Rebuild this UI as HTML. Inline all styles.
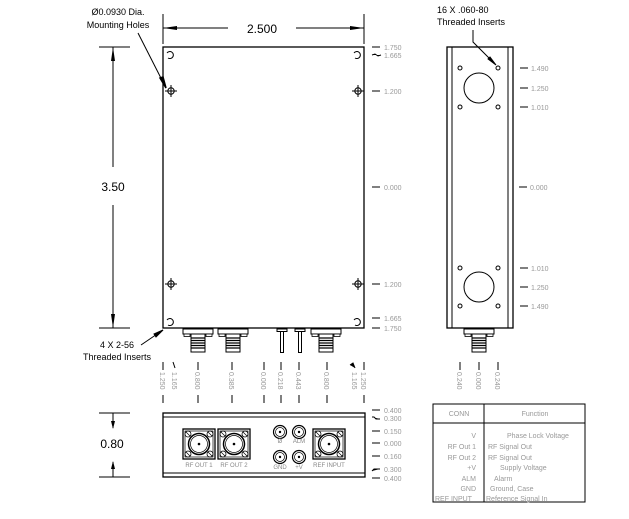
<!DOCTYPE html>
<html><head><meta charset="utf-8"><style>
html,body{margin:0;padding:0;background:#fff;}
svg{display:block;font-family:"Liberation Sans",sans-serif;}
.g{fill:#999;font-size:7px;}
.gl{fill:#888;font-size:6px;}
</style></head><body>
<svg width="629" height="519" viewBox="0 0 629 519" xmlns="http://www.w3.org/2000/svg">
<defs>
<g id="sma">
<rect x="-15" y="0" width="30" height="5" fill="#fff" stroke="#000"/>
<rect x="-14" y="5" width="6" height="2.5" fill="#fff" stroke="#000" stroke-width="0.8"/>
<rect x="8" y="5" width="6" height="2.5" fill="#fff" stroke="#000" stroke-width="0.8"/>
<rect x="-7" y="5" width="14" height="18" fill="#fff" stroke="#000"/>
<path d="M-7 9h14M-7 11.5h14M-7 14h14M-7 16.5h14M-7 19h14" stroke="#000" stroke-width="1.2"/>
</g>
<g id="sq">
<rect x="-16" y="-15" width="32" height="30" fill="#fff" stroke="#000" stroke-width="1.3"/>
<rect x="-14" y="-13" width="28" height="26" fill="none" stroke="#000" stroke-width="0.7"/>
<circle r="10.5" fill="none" stroke="#000" stroke-width="1.5"/>
<circle r="8.5" fill="none" stroke="#000" stroke-width="0.7"/>
<circle r="1.3" fill="#000"/>
<g fill="none" stroke="#000" stroke-width="0.8">
<circle cx="-11" cy="-10" r="3"/><circle cx="11" cy="-10" r="3"/><circle cx="-11" cy="10" r="3"/><circle cx="11" cy="10" r="3"/>
</g>
<path d="M-13-12l4 4M9-12l4 4M-13 8l4 4M9 8l4 4" stroke="#000" stroke-width="0.7"/>
</g>
<g id="sc">
<circle r="6.5" fill="none" stroke="#000" stroke-width="1.2"/>
<circle r="4.5" fill="none" stroke="#000" stroke-width="0.7"/>
<circle r="1.2" fill="#000"/>
</g>
<g id="mh">
<circle r="3.2" fill="none" stroke="#000"/>
<path d="M-6 0h12M0-6v12" stroke="#000"/>
</g>
<g id="ti">
<path d="M-3-2A3.5 3.5 0 1 1 -2 3" fill="none" stroke="#000"/>
</g>
</defs>

<!-- top view -->
<rect x="163" y="47" width="201" height="281" fill="#fff" stroke="#000" stroke-width="1.3"/>
<use href="#ti" x="170" y="55"/><use href="#ti" x="357" y="55"/>
<use href="#ti" x="170" y="322"/><use href="#ti" x="357" y="322"/>
<use href="#mh" x="171" y="91"/><use href="#mh" x="358" y="91"/>
<use href="#mh" x="171" y="284"/><use href="#mh" x="358" y="284"/>
<use href="#sma" x="198" y="329"/><use href="#sma" x="233" y="329"/><use href="#sma" x="326" y="329"/>
<g fill="#fff" stroke="#000">
<rect x="277" y="329" width="10" height="2.5"/><rect x="280.5" y="331.5" width="3" height="21"/>
<rect x="295" y="329" width="10" height="2.5"/><rect x="298.5" y="331.5" width="3" height="21"/>
</g>

<!-- 2.500 dim -->
<path d="M163 14v30M364 14v30M163 28h65M296 28h68" stroke="#000"/>
<path d="M163 28l14-2v4zM364 28l-14-2v4z" fill="#000"/>
<text x="262" y="33" font-size="12" text-anchor="middle">2.500</text>
<!-- callout -->
<text x="118" y="15" font-size="9" text-anchor="middle">Ø0.0930 Dia.</text>
<text x="118" y="28" font-size="9" text-anchor="middle">Mounting Holes</text>
<path d="M138 33L166 88" stroke="#000"/>
<path d="M166 88l-6-10 3-1z" fill="#000" stroke="#000" stroke-width="1.5"/>
<!-- 3.50 dim -->
<path d="M99 47h31M99 328h31M113 47v120M113 205v123" stroke="#000"/>
<path d="M113 47l-2 14h4zM113 328l-2-14h4z" fill="#000"/>
<text x="113" y="191" font-size="12" text-anchor="middle">3.50</text>
<text x="117" y="348" font-size="9" text-anchor="middle">4 X 2-56</text>
<text x="117" y="360" font-size="9" text-anchor="middle">Threaded Inserts</text>
<path d="M141 345L163 330" stroke="#000"/>
<path d="M163 330l-9 4 2 3z" fill="#000" stroke="#000"/>

<!-- right labels top -->
<g stroke="#000"><path d="M372 47h8M372 55l3-1 3 2 3-1M372 91h8M372 187h8M372 284h8M372 318h8M372 328h8"/></g>
<g class="g">
<text x="384" y="50">1.750</text><text x="384" y="58">1.665</text>
<text x="384" y="94">1.200</text><text x="384" y="190">0.000</text>
<text x="384" y="287">1.200</text><text x="384" y="321">1.665</text><text x="384" y="331">1.750</text>
</g>

<!-- vertical labels under top view -->
<g stroke="#000">
<path d="M163 362v8M163 395v8M173 362l2 6M198 362v8M198 395v8M232 362v8M232 395v8M264 362v8M264 395v8M281 362v8M281 395v8M299 362v8M299 395v8M327 362v8M327 395v8M355 368l-2-5-3 2M364 362v8M364 395v8"/>
</g>
<g class="g">
<text transform="translate(160,372) rotate(90)">1.250</text>
<text transform="translate(172,372) rotate(90)">1.165</text>
<text transform="translate(195,372) rotate(90)">0.800</text>
<text transform="translate(229,372) rotate(90)">0.385</text>
<text transform="translate(261,372) rotate(90)">0.000</text>
<text transform="translate(278,372) rotate(90)">0.218</text>
<text transform="translate(296,372) rotate(90)">0.443</text>
<text transform="translate(324,372) rotate(90)">0.800</text>
<text transform="translate(352,372) rotate(90)">1.165</text>
<text transform="translate(361,372) rotate(90)">1.250</text>
</g>

<!-- side view -->
<rect x="447" y="47" width="66" height="281" fill="#fff" stroke="#000" stroke-width="1.3"/>
<path d="M452 47v281M508 47v281" stroke="#000"/>
<g fill="none" stroke="#000">
<circle cx="479" cy="88" r="15"/><circle cx="479" cy="287" r="15"/>
<circle cx="460" cy="68" r="2"/><circle cx="498" cy="68" r="2"/><circle cx="460" cy="107" r="2"/><circle cx="498" cy="107" r="2"/>
<circle cx="460" cy="268" r="2"/><circle cx="498" cy="268" r="2"/><circle cx="460" cy="306" r="2"/><circle cx="498" cy="306" r="2"/>
</g>
<use href="#sma" x="479" y="329"/>
<text x="437" y="13" font-size="9">16 X .060-80</text>
<text x="437" y="25" font-size="9">Threaded Inserts</text>
<path d="M473 30v12L495 64" stroke="#000" fill="none"/>
<path d="M496 65l-8-6 2-2z" fill="#000" stroke="#000"/>
<g stroke="#000"><path d="M520 68h8M520 88h8M520 107h8M519 187h8M520 268h8M520 287h8M520 306h8"/></g>
<g class="g">
<text x="531" y="71">1.490</text><text x="531" y="91">1.250</text><text x="531" y="110">1.010</text>
<text x="530" y="190">0.000</text>
<text x="531" y="271">1.010</text><text x="531" y="290">1.250</text><text x="531" y="309">1.490</text>
</g>
<g stroke="#000"><path d="M460 362v8M479 362v8M498 362v8"/></g>
<g class="g">
<text transform="translate(457,372) rotate(90)">0.240</text>
<text transform="translate(476,372) rotate(90)">0.000</text>
<text transform="translate(495,372) rotate(90)">0.240</text>
</g>

<!-- bottom view -->
<rect x="163" y="413" width="202" height="64" fill="#fff" stroke="#000" stroke-width="1.3"/>
<path d="M163 417h202M163 473h202" stroke="#000"/>
<use href="#sq" x="199" y="444"/><use href="#sq" x="234" y="444"/><use href="#sq" x="329" y="444"/>
<use href="#sc" x="280" y="432"/><use href="#sc" x="299" y="432"/>
<use href="#sc" x="280" y="457"/><use href="#sc" x="299" y="457"/>
<g class="gl" text-anchor="middle">
<text x="199" y="467">RF OUT 1</text><text x="234" y="467">RF OUT 2</text>
<text x="280" y="443">Ø</text><text x="299" y="443">ALM</text>
<text x="280" y="469">GND</text><text x="299" y="469">+V</text>
<text x="329" y="467">REF INPUT</text>
</g>
<path d="M99 413h31M99 477h31M113 413v15M113 462v15" stroke="#000"/>
<path d="M113 429l-2-8h4zM113 461l-2 8h4z" fill="#000"/>
<text x="112" y="448" font-size="12" text-anchor="middle">0.80</text>
<g stroke="#000"><path d="M372 410h8M372 417l2 0 2 2h4M372 431h8M372 443h8M372 456h8M372 471l2-2h6M372 478h8"/></g>
<g class="g">
<text x="384" y="413">0.400</text><text x="384" y="421">0.300</text><text x="384" y="434">0.150</text>
<text x="384" y="446">0.000</text><text x="384" y="459">0.160</text><text x="384" y="472">0.300</text><text x="384" y="481">0.400</text>
</g>

<!-- table -->
<rect x="433" y="404" width="152" height="98" fill="#fff" stroke="#000"/>
<path d="M433 423h152M484 404v98" stroke="#000"/>
<g class="g">
<text x="459" y="416" text-anchor="middle">CONN</text>
<text x="535" y="416" text-anchor="middle">Function</text>
<g text-anchor="end">
<text x="476" y="438">V</text><text x="476" y="449">RF Out 1</text><text x="476" y="460">RF Out 2</text>
<text x="476" y="470">+V</text><text x="476" y="481">ALM</text><text x="476" y="491">GND</text>
</g>
<text x="435" y="501">REF INPUT</text>
<text x="507" y="438">Phase Lock Voltage</text>
<text x="488" y="449">RF Signal Out</text>
<text x="488" y="460">RF Signal Out</text>
<text x="500" y="470">Supply Voltage</text>
<text x="494" y="481">Alarm</text>
<text x="490" y="491">Ground, Case</text>
<text x="486" y="501">Reference Signal In</text>
</g>
</svg>
</body></html>
